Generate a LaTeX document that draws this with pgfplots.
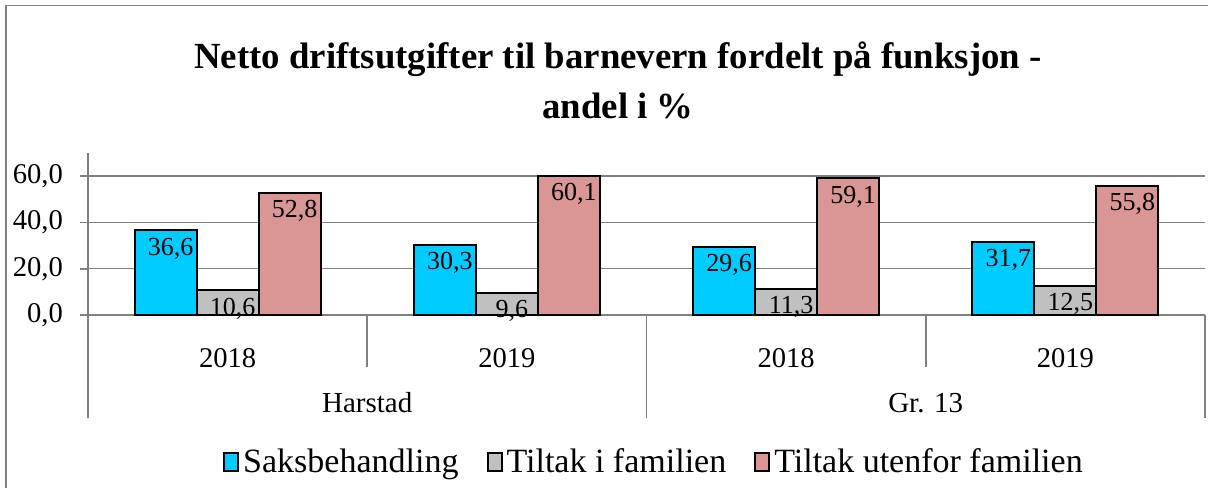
\documentclass[border=0pt]{standalone}
\usepackage{fontspec}
\setmainfont{Liberation Serif}
\usepackage{pgfplots}
\pgfplotsset{compat=1.18}
\definecolor{saks}{RGB}{0,204,255}
\definecolor{tilfam}{RGB}{192,192,192}
\definecolor{tilut}{RGB}{218,150,148}
\definecolor{linegray}{RGB}{128,128,128}

\begin{document}
\begin{tikzpicture}
\useasboundingbox (0,0) rectangle (604pt,-244pt);
\draw[linegray, line width=0.8pt] (3pt,-244pt) -- (3pt,-2.8pt) -- (604pt,-2.8pt);
\node[font=\fontsize{18.4}{24}\selectfont\bfseries, anchor=base] at (309pt,-34pt) {Netto driftsutgifter til barnevern fordelt på funksjon -};
\node[font=\fontsize{18.4}{24}\selectfont\bfseries, anchor=base] at (309pt,-59pt) {andel i \%};

\begin{axis}[
    at={(44pt,-157.5pt)}, anchor=south west,
    scale only axis, width=558.5pt, height=81pt,
    ybar=0pt, bar width=31pt,
    xmin=-0.5, xmax=3.5, ymin=0, ymax=70,
    xtick={0,1,2,3}, xticklabels={2018,2019,2018,2019},
    ytick={0,20,40,60},
    axis x line=bottom, axis y line=left,
    axis line style={-, linegray, line width=0.8pt},
    ymajorgrids, grid style={linegray, line width=0.75pt},
    major tick length=4pt, tick align=outside,
    ytick style={linegray, line width=0.8pt},
    xtick style={draw=none},
    /pgf/number format/.cd, fixed, fixed zerofill, precision=1, use comma, assume math mode=true,
    /pgfplots/.cd,
    ticklabel style={font=\fontsize{14.3}{14.3}\selectfont},
    yticklabel style={xshift=-5pt},
    xticklabel style={anchor=base, yshift=-22pt},
    nodes near coords,
    every node near coord/.append style={font=\fontsize{13}{13}\selectfont, anchor=north, xshift=2.5pt, black},
    clip=false,
    legend style={draw=none, fill=none, at={(0.5076,-0.907)}, anchor=center,
        font=\fontsize{17}{17}\selectfont,
        /tikz/every even column/.append style={column sep=12pt}},
    legend columns=3,
    legend image code/.code={\draw[#1, line width=1pt] (0pt,-4.5pt) rectangle (7pt,4.5pt);},
]
\addplot[fill=saks, draw=black, line width=1pt] coordinates {(0,36.6) (1,30.3) (2,29.6) (3,31.7)};
\addplot[fill=tilfam, draw=black, line width=1pt] coordinates {(0,10.6) (1,9.6) (2,11.3) (3,12.5)};
\addplot[fill=tilut, draw=black, line width=1pt] coordinates {(0,52.8) (1,60.1) (2,59.1) (3,55.8)};
\legend{Saksbehandling, Tiltak i familien, Tiltak utenfor familien}
\draw[linegray, line width=0.8pt] (axis cs:-0.5,0) -- ([yshift=-51.5pt]axis cs:-0.5,0);
\draw[linegray, line width=0.8pt] (axis cs:0.5,0) -- ([yshift=-26pt]axis cs:0.5,0);
\draw[linegray, line width=0.8pt] (axis cs:1.5,0) -- ([yshift=-51.5pt]axis cs:1.5,0);
\draw[linegray, line width=0.8pt] (axis cs:2.5,0) -- ([yshift=-26pt]axis cs:2.5,0);
\draw[linegray, line width=0.8pt] (axis cs:3.5,0) -- ([yshift=-51.5pt]axis cs:3.5,0);
\node[anchor=base, yshift=-48.5pt, font=\fontsize{14.5}{14.5}\selectfont] at (axis cs:0.5,0) {Harstad};
\node[anchor=base, yshift=-48.5pt, font=\fontsize{14.5}{14.5}\selectfont] at (axis cs:2.5,0) {Gr. 13};
\end{axis}
\end{tikzpicture}
\end{document}
